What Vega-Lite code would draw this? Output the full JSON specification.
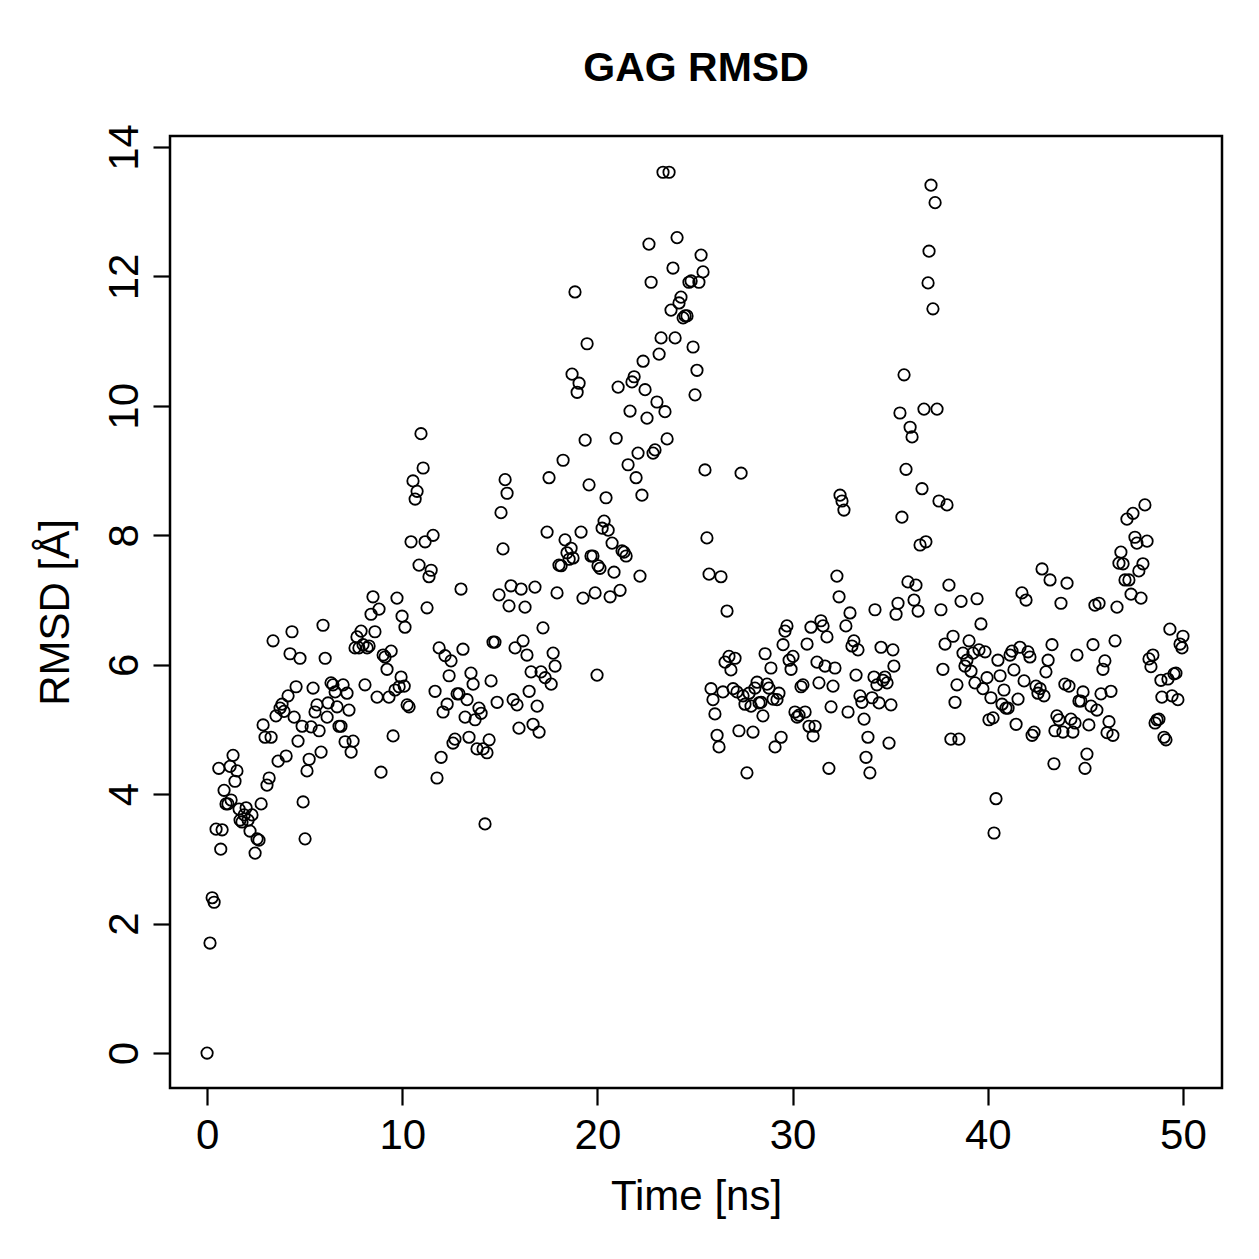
{
  "$schema": "https://vega.github.io/schema/vega-lite/v6.json",
  "autosize": "none",
  "width": 1052,
  "height": 952,
  "padding": {"left": 170, "top": 136, "right": 37, "bottom": 171},
  "background": "white",
  "config": {
    "font": "Liberation Sans",
    "view": {"stroke": "black", "strokeWidth": 2.5, "fill": null}
  },
  "title": {"text": "GAG RMSD", "fontSize": 41, "fontWeight": "bold", "font": "Liberation Sans", "color": "black", "anchor": "middle", "baseline": "alphabetic", "offset": 2},
  "data": {"values": [
{"t":0,"rmsd":0},{"t":0.15,"rmsd":1.70},{"t":0.26,"rmsd":2.40},{"t":0.36,"rmsd":2.33},{"t":0.46,"rmsd":3.46},{"t":0.6,"rmsd":4.40},{"t":0.7,"rmsd":3.15},{"t":0.77,"rmsd":3.45},{"t":0.87,"rmsd":4.06},{"t":0.97,"rmsd":3.85},
{"t":1.07,"rmsd":3.85},{"t":1.18,"rmsd":4.43},{"t":1.23,"rmsd":3.91},{"t":1.33,"rmsd":4.60},{"t":1.43,"rmsd":4.20},{"t":1.53,"rmsd":4.36},{"t":1.64,"rmsd":3.77},{"t":1.69,"rmsd":3.60},{"t":1.79,"rmsd":3.57},{"t":1.9,"rmsd":3.68},
{"t":2.0,"rmsd":3.79},{"t":2.1,"rmsd":3.60},{"t":2.2,"rmsd":3.43},{"t":2.3,"rmsd":3.68},{"t":2.46,"rmsd":3.09},{"t":2.56,"rmsd":3.31},{"t":2.66,"rmsd":3.29},{"t":2.77,"rmsd":3.85},{"t":2.87,"rmsd":5.07},{"t":2.97,"rmsd":4.88},
{"t":3.07,"rmsd":4.14},{"t":3.18,"rmsd":4.25},{"t":3.28,"rmsd":4.88},{"t":3.38,"rmsd":6.37},{"t":3.53,"rmsd":5.21},{"t":3.64,"rmsd":4.51},{"t":3.74,"rmsd":5.33},{"t":3.84,"rmsd":5.39},{"t":3.94,"rmsd":5.28},{"t":4.05,"rmsd":4.59},
{"t":4.15,"rmsd":5.52},{"t":4.25,"rmsd":6.17},{"t":4.35,"rmsd":6.51},{"t":4.46,"rmsd":5.19},{"t":4.56,"rmsd":5.66},{"t":4.66,"rmsd":4.82},{"t":4.76,"rmsd":6.10},{"t":4.87,"rmsd":5.05},{"t":4.92,"rmsd":3.88},{"t":5.02,"rmsd":3.31},
{"t":5.12,"rmsd":4.36},{"t":5.23,"rmsd":4.54},{"t":5.33,"rmsd":5.04},{"t":5.43,"rmsd":5.64},{"t":5.53,"rmsd":5.27},{"t":5.63,"rmsd":5.38},{"t":5.74,"rmsd":4.98},{"t":5.84,"rmsd":4.65},{"t":5.94,"rmsd":6.61},{"t":6.05,"rmsd":6.10},
{"t":6.15,"rmsd":5.19},{"t":6.2,"rmsd":5.41},{"t":6.35,"rmsd":5.72},{"t":6.45,"rmsd":5.69},{"t":6.56,"rmsd":5.58},{"t":6.66,"rmsd":5.35},{"t":6.76,"rmsd":5.05},{"t":6.86,"rmsd":5.05},{"t":6.97,"rmsd":5.69},{"t":7.07,"rmsd":4.81},
{"t":7.17,"rmsd":5.56},{"t":7.27,"rmsd":5.30},{"t":7.38,"rmsd":4.65},{"t":7.48,"rmsd":4.82},{"t":7.58,"rmsd":6.26},{"t":7.68,"rmsd":6.43},{"t":7.78,"rmsd":6.26},{"t":7.89,"rmsd":6.52},{"t":7.99,"rmsd":6.31},{"t":8.09,"rmsd":5.69},
{"t":8.2,"rmsd":6.26},{"t":8.3,"rmsd":6.29},{"t":8.4,"rmsd":6.78},{"t":8.5,"rmsd":7.05},{"t":8.6,"rmsd":6.51},{"t":8.71,"rmsd":5.50},{"t":8.81,"rmsd":6.86},{"t":8.91,"rmsd":4.34},{"t":9.02,"rmsd":6.15},{"t":9.12,"rmsd":6.12},
{"t":9.22,"rmsd":5.93},{"t":9.32,"rmsd":5.50},{"t":9.43,"rmsd":6.21},{"t":9.53,"rmsd":4.90},{"t":9.63,"rmsd":5.61},{"t":9.73,"rmsd":7.03},{"t":9.84,"rmsd":5.66},{"t":9.94,"rmsd":5.81},{"t":9.99,"rmsd":6.75},{"t":10.1,"rmsd":5.67},
{"t":10.14,"rmsd":6.58},{"t":10.25,"rmsd":5.38},{"t":10.35,"rmsd":5.35},{"t":10.45,"rmsd":7.90},{"t":10.55,"rmsd":8.84},{"t":10.66,"rmsd":8.56},{"t":10.76,"rmsd":8.68},{"t":10.86,"rmsd":7.54},{"t":10.96,"rmsd":9.57},{"t":11.07,"rmsd":9.04},
{"t":11.17,"rmsd":7.90},{"t":11.27,"rmsd":6.88},{"t":11.37,"rmsd":7.36},{"t":11.48,"rmsd":7.46},{"t":11.58,"rmsd":8.00},{"t":11.68,"rmsd":5.59},{"t":11.78,"rmsd":4.25},{"t":11.89,"rmsd":6.26},{"t":11.99,"rmsd":4.57},{"t":12.09,"rmsd":5.27},
{"t":12.19,"rmsd":6.14},{"t":12.3,"rmsd":5.39},{"t":12.4,"rmsd":5.83},{"t":12.5,"rmsd":6.06},{"t":12.6,"rmsd":4.79},{"t":12.7,"rmsd":4.85},{"t":12.81,"rmsd":5.55},{"t":12.91,"rmsd":5.55},{"t":13.01,"rmsd":7.17},{"t":13.11,"rmsd":6.24},
{"t":13.22,"rmsd":5.19},{"t":13.32,"rmsd":5.46},{"t":13.42,"rmsd":4.88},{"t":13.52,"rmsd":5.87},{"t":13.63,"rmsd":5.70},{"t":13.73,"rmsd":5.15},{"t":13.83,"rmsd":4.70},{"t":13.93,"rmsd":5.33},{"t":14.04,"rmsd":5.25},{"t":14.14,"rmsd":4.70},
{"t":14.24,"rmsd":3.54},{"t":14.34,"rmsd":4.64},{"t":14.45,"rmsd":4.84},{"t":14.55,"rmsd":5.75},{"t":14.65,"rmsd":6.35},{"t":14.75,"rmsd":6.35},{"t":14.86,"rmsd":5.42},{"t":14.96,"rmsd":7.08},{"t":15.06,"rmsd":8.35},{"t":15.16,"rmsd":7.79},
{"t":15.27,"rmsd":8.86},{"t":15.37,"rmsd":8.65},{"t":15.47,"rmsd":6.91},{"t":15.57,"rmsd":7.22},{"t":15.68,"rmsd":5.46},{"t":15.78,"rmsd":6.26},{"t":15.88,"rmsd":5.38},{"t":15.98,"rmsd":5.02},{"t":16.09,"rmsd":7.17},{"t":16.19,"rmsd":6.37},
{"t":16.29,"rmsd":6.89},{"t":16.39,"rmsd":6.15},{"t":16.5,"rmsd":5.59},{"t":16.6,"rmsd":5.89},{"t":16.7,"rmsd":5.08},{"t":16.8,"rmsd":7.20},{"t":16.91,"rmsd":5.36},{"t":17.01,"rmsd":4.96},{"t":17.11,"rmsd":5.89},{"t":17.21,"rmsd":6.57},
{"t":17.32,"rmsd":5.80},{"t":17.42,"rmsd":8.05},{"t":17.52,"rmsd":8.89},{"t":17.63,"rmsd":5.70},{"t":17.73,"rmsd":6.18},{"t":17.83,"rmsd":5.98},{"t":17.93,"rmsd":7.11},{"t":18.03,"rmsd":7.54},{"t":18.14,"rmsd":7.53},{"t":18.24,"rmsd":9.16},
{"t":18.34,"rmsd":7.93},{"t":18.44,"rmsd":7.73},{"t":18.55,"rmsd":7.63},{"t":18.65,"rmsd":7.80},{"t":18.75,"rmsd":7.65},{"t":18.7,"rmsd":10.49},{"t":18.85,"rmsd":11.76},{"t":18.96,"rmsd":10.21},{"t":19.06,"rmsd":10.35},{"t":19.16,"rmsd":8.05},
{"t":19.26,"rmsd":7.03},{"t":19.37,"rmsd":9.47},{"t":19.47,"rmsd":10.96},{"t":19.57,"rmsd":8.78},{"t":19.67,"rmsd":7.68},{"t":19.77,"rmsd":7.68},{"t":19.88,"rmsd":7.11},{"t":19.98,"rmsd":5.84},{"t":20.03,"rmsd":7.53},{"t":20.13,"rmsd":7.49},
{"t":20.24,"rmsd":8.11},{"t":20.34,"rmsd":8.22},{"t":20.44,"rmsd":8.58},{"t":20.55,"rmsd":8.08},{"t":20.65,"rmsd":7.05},{"t":20.75,"rmsd":7.88},{"t":20.85,"rmsd":7.43},{"t":20.96,"rmsd":9.50},{"t":21.06,"rmsd":10.29},{"t":21.16,"rmsd":7.15},
{"t":21.26,"rmsd":7.76},{"t":21.36,"rmsd":7.74},{"t":21.47,"rmsd":7.68},{"t":21.57,"rmsd":9.09},{"t":21.67,"rmsd":9.92},{"t":21.77,"rmsd":10.37},{"t":21.88,"rmsd":10.45},{"t":21.98,"rmsd":8.89},{"t":22.08,"rmsd":9.27},{"t":22.18,"rmsd":7.37},
{"t":22.28,"rmsd":8.62},{"t":22.34,"rmsd":10.69},{"t":22.44,"rmsd":10.25},{"t":22.54,"rmsd":9.81},{"t":22.64,"rmsd":12.50},{"t":22.75,"rmsd":11.91},{"t":22.85,"rmsd":9.27},{"t":22.95,"rmsd":9.32},{"t":23.05,"rmsd":10.06},{"t":23.16,"rmsd":10.80},
{"t":23.26,"rmsd":11.05},{"t":23.36,"rmsd":13.61},{"t":23.46,"rmsd":9.91},{"t":23.57,"rmsd":9.49},{"t":23.67,"rmsd":13.61},{"t":23.77,"rmsd":11.48},{"t":23.87,"rmsd":12.13},{"t":23.98,"rmsd":11.05},{"t":24.08,"rmsd":12.60},{"t":24.18,"rmsd":11.59},
{"t":24.28,"rmsd":11.68},{"t":24.39,"rmsd":11.36},{"t":24.49,"rmsd":11.39},{"t":24.59,"rmsd":11.39},{"t":24.69,"rmsd":11.91},{"t":24.8,"rmsd":11.93},{"t":24.9,"rmsd":10.91},{"t":25.0,"rmsd":10.17},{"t":25.1,"rmsd":10.55},{"t":25.2,"rmsd":11.91},
{"t":25.31,"rmsd":12.33},{"t":25.41,"rmsd":12.07},{"t":25.51,"rmsd":9.01},{"t":25.61,"rmsd":7.96},{"t":25.72,"rmsd":7.40},{"t":25.82,"rmsd":5.63},{"t":25.92,"rmsd":5.46},{"t":26.02,"rmsd":5.24},{"t":26.13,"rmsd":4.91},{"t":26.23,"rmsd":4.73},
{"t":26.33,"rmsd":7.36},{"t":26.43,"rmsd":5.58},{"t":26.54,"rmsd":6.04},{"t":26.64,"rmsd":6.83},{"t":26.74,"rmsd":6.13},{"t":26.84,"rmsd":5.92},{"t":26.95,"rmsd":5.63},{"t":27.05,"rmsd":6.10},{"t":27.15,"rmsd":5.58},{"t":27.25,"rmsd":4.98},
{"t":27.36,"rmsd":8.96},{"t":27.46,"rmsd":5.52},{"t":27.56,"rmsd":5.39},{"t":27.66,"rmsd":4.33},{"t":27.77,"rmsd":5.56},{"t":27.87,"rmsd":5.36},{"t":27.97,"rmsd":4.96},{"t":28.07,"rmsd":5.64},{"t":28.18,"rmsd":5.73},{"t":28.28,"rmsd":5.41},
{"t":28.38,"rmsd":5.42},{"t":28.48,"rmsd":5.21},{"t":28.59,"rmsd":6.17},{"t":28.69,"rmsd":5.70},{"t":28.79,"rmsd":5.64},{"t":28.89,"rmsd":5.95},{"t":29.0,"rmsd":5.47},{"t":29.1,"rmsd":4.73},{"t":29.2,"rmsd":5.46},{"t":29.3,"rmsd":5.56},
{"t":29.41,"rmsd":4.88},{"t":29.51,"rmsd":6.31},{"t":29.61,"rmsd":6.52},{"t":29.71,"rmsd":6.60},{"t":29.82,"rmsd":6.07},{"t":29.92,"rmsd":5.93},{"t":30.02,"rmsd":6.13},{"t":30.12,"rmsd":5.27},{"t":30.23,"rmsd":5.19},{"t":30.33,"rmsd":5.22},
{"t":30.43,"rmsd":5.66},{"t":30.53,"rmsd":5.69},{"t":30.64,"rmsd":5.27},{"t":30.74,"rmsd":6.32},{"t":30.84,"rmsd":5.05},{"t":30.94,"rmsd":6.58},{"t":31.05,"rmsd":4.90},{"t":31.15,"rmsd":5.05},{"t":31.25,"rmsd":6.04},{"t":31.35,"rmsd":5.72},
{"t":31.45,"rmsd":6.68},{"t":31.56,"rmsd":6.60},{"t":31.66,"rmsd":5.98},{"t":31.76,"rmsd":6.43},{"t":31.86,"rmsd":4.40},{"t":31.97,"rmsd":5.35},{"t":32.07,"rmsd":5.67},{"t":32.17,"rmsd":5.95},{"t":32.27,"rmsd":7.37},{"t":32.38,"rmsd":7.05},
{"t":32.43,"rmsd":8.62},{"t":32.53,"rmsd":8.53},{"t":32.63,"rmsd":8.39},{"t":32.73,"rmsd":6.60},{"t":32.84,"rmsd":5.27},{"t":32.94,"rmsd":6.80},{"t":33.04,"rmsd":6.29},{"t":33.14,"rmsd":6.37},{"t":33.25,"rmsd":5.84},{"t":33.35,"rmsd":6.23},
{"t":33.45,"rmsd":5.52},{"t":33.55,"rmsd":5.42},{"t":33.66,"rmsd":5.16},{"t":33.76,"rmsd":4.57},{"t":33.86,"rmsd":4.88},{"t":33.96,"rmsd":4.33},{"t":34.07,"rmsd":5.49},{"t":34.17,"rmsd":5.81},{"t":34.22,"rmsd":6.85},{"t":34.32,"rmsd":5.69},
{"t":34.43,"rmsd":5.41},{"t":34.53,"rmsd":6.27},{"t":34.63,"rmsd":5.76},{"t":34.73,"rmsd":5.81},{"t":34.84,"rmsd":5.72},{"t":34.94,"rmsd":4.79},{"t":35.04,"rmsd":5.38},{"t":35.14,"rmsd":6.23},{"t":35.19,"rmsd":5.98},{"t":35.3,"rmsd":6.78},
{"t":35.4,"rmsd":6.95},{"t":35.5,"rmsd":9.89},{"t":35.6,"rmsd":8.28},{"t":35.71,"rmsd":10.48},{"t":35.81,"rmsd":9.02},{"t":35.91,"rmsd":7.28},{"t":36.02,"rmsd":9.67},{"t":36.12,"rmsd":9.52},{"t":36.22,"rmsd":7.0},{"t":36.32,"rmsd":7.23},
{"t":36.43,"rmsd":6.83},{"t":36.53,"rmsd":7.85},{"t":36.63,"rmsd":8.72},{"t":36.73,"rmsd":9.95},{"t":36.83,"rmsd":7.90},{"t":36.94,"rmsd":11.90},{"t":36.99,"rmsd":12.39},{"t":37.09,"rmsd":13.41},{"t":37.19,"rmsd":11.50},{"t":37.3,"rmsd":13.14},
{"t":37.4,"rmsd":9.95},{"t":37.5,"rmsd":8.53},{"t":37.6,"rmsd":6.85},{"t":37.7,"rmsd":5.93},{"t":37.81,"rmsd":6.32},{"t":37.91,"rmsd":8.47},{"t":38.01,"rmsd":7.23},{"t":38.11,"rmsd":4.85},{"t":38.22,"rmsd":6.44},{"t":38.32,"rmsd":5.42},
{"t":38.42,"rmsd":5.69},{"t":38.52,"rmsd":4.85},{"t":38.63,"rmsd":6.98},{"t":38.73,"rmsd":6.18},{"t":38.83,"rmsd":5.98},{"t":38.93,"rmsd":6.07},{"t":39.04,"rmsd":6.37},{"t":39.14,"rmsd":5.90},{"t":39.24,"rmsd":6.18},{"t":39.34,"rmsd":5.72},
{"t":39.45,"rmsd":7.02},{"t":39.55,"rmsd":6.23},{"t":39.65,"rmsd":6.63},{"t":39.75,"rmsd":5.63},{"t":39.86,"rmsd":6.20},{"t":39.96,"rmsd":5.80},{"t":40.06,"rmsd":5.15},{"t":40.16,"rmsd":5.49},{"t":40.27,"rmsd":5.18},{"t":40.32,"rmsd":3.40},
{"t":40.42,"rmsd":3.93},{"t":40.52,"rmsd":6.07},{"t":40.63,"rmsd":5.83},{"t":40.73,"rmsd":5.39},{"t":40.83,"rmsd":5.61},{"t":40.93,"rmsd":5.33},{"t":41.04,"rmsd":5.33},{"t":41.14,"rmsd":6.15},{"t":41.24,"rmsd":6.21},{"t":41.34,"rmsd":5.92},
{"t":41.45,"rmsd":5.08},{"t":41.55,"rmsd":5.47},{"t":41.65,"rmsd":6.27},{"t":41.75,"rmsd":7.11},{"t":41.86,"rmsd":5.75},{"t":41.96,"rmsd":7.0},{"t":42.06,"rmsd":6.20},{"t":42.16,"rmsd":6.12},{"t":42.27,"rmsd":4.91},{"t":42.37,"rmsd":4.96},
{"t":42.47,"rmsd":5.67},{"t":42.57,"rmsd":5.56},{"t":42.68,"rmsd":5.63},{"t":42.78,"rmsd":7.48},{"t":42.88,"rmsd":5.52},{"t":42.98,"rmsd":5.89},{"t":43.09,"rmsd":6.07},{"t":43.19,"rmsd":7.31},{"t":43.29,"rmsd":6.31},{"t":43.39,"rmsd":4.47},
{"t":43.44,"rmsd":4.98},{"t":43.54,"rmsd":5.21},{"t":43.65,"rmsd":5.15},{"t":43.75,"rmsd":6.95},{"t":43.85,"rmsd":4.96},{"t":43.95,"rmsd":5.70},{"t":44.06,"rmsd":7.26},{"t":44.16,"rmsd":5.67},{"t":44.26,"rmsd":5.16},{"t":44.36,"rmsd":4.96},
{"t":44.47,"rmsd":5.10},{"t":44.57,"rmsd":6.15},{"t":44.67,"rmsd":5.44},{"t":44.77,"rmsd":5.44},{"t":44.88,"rmsd":5.58},{"t":44.98,"rmsd":4.40},{"t":45.08,"rmsd":4.62},{"t":45.18,"rmsd":5.07},{"t":45.29,"rmsd":5.36},{"t":45.39,"rmsd":6.31},
{"t":45.49,"rmsd":6.92},{"t":45.59,"rmsd":5.30},{"t":45.7,"rmsd":6.95},{"t":45.8,"rmsd":5.55},{"t":45.9,"rmsd":5.93},{"t":46.0,"rmsd":6.06},{"t":46.11,"rmsd":4.95},{"t":46.21,"rmsd":5.12},{"t":46.31,"rmsd":5.59},{"t":46.41,"rmsd":4.91},
{"t":46.52,"rmsd":6.37},{"t":46.62,"rmsd":6.89},{"t":46.72,"rmsd":7.57},{"t":46.82,"rmsd":7.74},{"t":46.93,"rmsd":7.56},{"t":47.03,"rmsd":7.31},{"t":47.13,"rmsd":8.25},{"t":47.23,"rmsd":7.31},{"t":47.34,"rmsd":7.09},{"t":47.44,"rmsd":8.34},
{"t":47.54,"rmsd":7.97},{"t":47.64,"rmsd":7.88},{"t":47.74,"rmsd":7.45},{"t":47.85,"rmsd":7.03},{"t":47.95,"rmsd":7.56},{"t":48.05,"rmsd":8.47},{"t":48.16,"rmsd":7.91},{"t":48.26,"rmsd":6.09},{"t":48.36,"rmsd":5.97},{"t":48.46,"rmsd":6.15},
{"t":48.57,"rmsd":5.10},{"t":48.67,"rmsd":5.15},{"t":48.77,"rmsd":5.16},{"t":48.87,"rmsd":5.76},{"t":48.92,"rmsd":5.50},{"t":49.03,"rmsd":4.88},{"t":49.13,"rmsd":4.84},{"t":49.23,"rmsd":5.78},{"t":49.33,"rmsd":6.55},{"t":49.44,"rmsd":5.52},
{"t":49.54,"rmsd":5.86},{"t":49.64,"rmsd":5.87},{"t":49.74,"rmsd":5.46},{"t":49.85,"rmsd":6.32},{"t":49.95,"rmsd":6.26},{"t":50.0,"rmsd":6.44}
  ]},
  "mark": {"type": "point", "shape": "circle", "filled": false, "stroke": "black", "strokeWidth": 1.8, "size": 130, "opacity": 1},
  "encoding": {
    "x": {"field": "t", "type": "quantitative", "title": "Time [ns]",
      "scale": {"domain": [-1.9, 52.0], "nice": false, "zero": false},
      "axis": {"values": [0, 10, 20, 30, 40, 50], "grid": false, "domain": false, "tickSize": 17, "tickWidth": 2.2, "tickColor": "black",
        "labelFontSize": 42, "labelColor": "black", "labelPadding": 10, "labelFont": "Liberation Sans",
        "titleFontSize": 42, "titleFontWeight": "normal", "titleColor": "black", "titlePadding": 20, "titleFont": "Liberation Sans"}},
    "y": {"field": "rmsd", "type": "quantitative", "title": "RMSD [Å]",
      "scale": {"domain": [-0.54, 14.17], "nice": false, "zero": false},
      "axis": {"values": [0, 2, 4, 6, 8, 10, 12, 14], "grid": false, "domain": false, "tickSize": 17, "tickWidth": 2.2, "tickColor": "black",
        "labelFontSize": 42, "labelColor": "black", "labelAngle": 270, "labelAlign": "center", "labelBaseline": "alphabetic", "labelPadding": 16, "labelFont": "Liberation Sans",
        "titleFontSize": 42, "titleFontWeight": "normal", "titleColor": "black", "titlePadding": 26, "titleFont": "Liberation Sans"}}
  }
}
